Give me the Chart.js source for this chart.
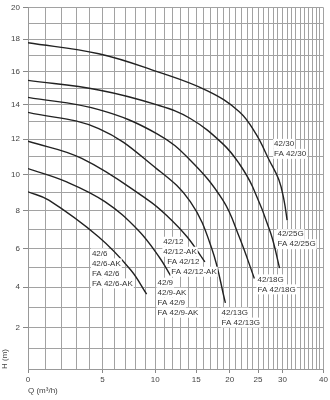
<!DOCTYPE html>
<html>
<head>
<meta charset="utf-8">
<script src="https://cdn.jsdelivr.net/npm/chart.js@4.4.0/dist/chart.umd.min.js"></script>
<style>
body { margin:0; background:#fff; }
canvas { display:block; }
</style>
</head>
<body>
<canvas id="pump-chart" width="330" height="400"></canvas>
<script>

// Q (m3/h) and H (m) along each pump curve
var q30 = [0, 4.7, 10.2, 16.5, 21.6, 24.6, 27.2, 29.2, 30.3, 31.0];
var h30 = [17.78, 17.1, 16.0, 14.85, 13.6, 12.3, 10.8, 9.7, 8.6, 7.5];

var q25 = [0, 4.7, 10.2, 14.2, 18.9, 21.6, 24.0, 27.5, 29.35];
var h25 = [15.47, 14.89, 14.0, 13.2, 11.73, 10.6, 9.3, 6.8, 4.98];

var q18 = [0, 4.7, 10.2, 14.2, 18.9, 21.6, 24.3];
var h18 = [14.45, 13.72, 12.31, 10.8, 8.58, 6.6, 4.45];

var q13 = [0, 4.7, 10.2, 14.2, 17.2, 19.3];
var h13 = [13.56, 12.61, 10.3, 8.5, 6.0, 3.21];

var q12 = [0, 3.4, 9.2, 11.4, 13.8, 16.2];
var h12 = [11.88, 10.9, 8.6, 7.7, 6.6, 5.3];

var q9 = [0, 2.3, 5.2, 8.2, 10.5, 11.74];
var h9 = [10.33, 9.6, 8.5, 6.97, 5.5, 4.59];

var q6 = [0, 1.2, 4.7, 7.5, 9.08];
var h6 = [9.04, 8.58, 6.6, 4.88, 3.65];

// labelled ticks
var qTicks = [0, 5, 10, 15, 20, 25, 30, 40];
var hTicks = [2, 4, 6, 8, 10, 12, 14, 16, 18, 20];

// curve names, anchored at (Q, H) of the first line
var curveLabels = [
    { q: 28.2, h: 11.73, lines: ['42/30', 'FA 42/30'] },
    { q: 28.9, h: 6.75, lines: ['42/25G', 'FA 42/25G'] },
    { q: 24.9, h: 4.40, lines: ['42/18G', 'FA 42/18G'] },
    { q: 18.7, h: 2.73, lines: ['42/13G', 'FA 42/13G'] },
    { q: 10.9, h: 6.35, lines: ['42/12', '42/12-AK', 'FA 42/12', 'FA 42/12-AK'], indent: [0, 0, 4, 8] },
    { q: 10.24, h: 4.23, lines: ['42/9', '42/9-AK', 'FA 42/9', 'FA 42/9-AK'] },
    { q: 4.16, h: 5.74, lines: ['42/6', '42/6-AK', 'FA 42/6', 'FA 42/6-AK'] }
];

var FONT = '"Liberation Sans", Arial, sans-serif';

// both axes of this sheet are ln(1 + v / shift) scales
class ShiftedLogScale extends Chart.LinearScale {
    tr(v) {
        return Math.log(1 + v / (this.options.shift || 10));
    }
    getPixelForValue(value) {
        if (value === null || value === undefined) return NaN;
        var t0 = this.tr(this.min), t1 = this.tr(this.max);
        return this.getPixelForDecimal((this.tr(value) - t0) / (t1 - t0));
    }
    getValueForPixel(pixel) {
        var t0 = this.tr(this.min), t1 = this.tr(this.max);
        var t = t0 + this.getDecimalForPixel(pixel) * (t1 - t0);
        return (this.options.shift || 10) * (Math.exp(t) - 1);
    }
}
ShiftedLogScale.id = 'shiftedLog';
ShiftedLogScale.defaults = Chart.LinearScale.defaults;
Chart.register(ShiftedLogScale);

function points(qs, hs) {
    return qs.map(function (q, i) {
        return { x: q, y: hs[i] };
    });
}

function curve(qs, hs) {
    return {
        data: points(qs, hs),
        borderColor: '#222',
        borderWidth: 1.4,
        pointRadius: 0,
        fill: false,
        tension: 0.4
    };
}

var labelPlugin = {
    id: 'curveLabels',
    afterDatasetsDraw: function (chart) {
        var ctx = chart.ctx;
        var xs = chart.scales.x, ys = chart.scales.y;
        ctx.save();
        ctx.font = '8px ' + FONT;
        ctx.textBaseline = 'middle';
        ctx.textAlign = 'left';
        curveLabels.forEach(function (lab) {
            var x = xs.getPixelForValue(lab.q);
            var y = ys.getPixelForValue(lab.h);
            lab.lines.forEach(function (txt, i) {
                var dx = lab.indent ? lab.indent[i] : 0;
                var w = ctx.measureText(txt).width;
                ctx.fillStyle = '#fff';
                ctx.fillRect(x + dx - 1, y + i * 10 - 5, w + 2, 10);
                ctx.fillStyle = '#333';
                ctx.fillText(txt, x + dx, y + i * 10);
            });
        });
        ctx.restore();
    }
};

var ctx = document.getElementById('pump-chart');
var pumpChart = new Chart(ctx, {
    type: 'line',
    data: {
        datasets: [
            curve(q30, h30),
            curve(q25, h25),
            curve(q18, h18),
            curve(q13, h13),
            curve(q12, h12),
            curve(q9, h9),
            curve(q6, h6)
        ]
    },
    options: {
        responsive: false,
        animation: false,
        layout: { padding: { left: 0, top: 7, right: 5, bottom: 0 } },
        plugins: { legend: { display: false }, tooltip: { enabled: false } },
        scales: {
            x: {
                type: 'shiftedLog',
                shift: 10,
                min: 0,
                max: 40,
                afterFit: function (s) { s.height = 31; },
                grid: {
                    color: '#a2a2a2',
                    lineWidth: 1,
                    tickLength: 4,
                    tickColor: function (c) {
                        return c.tick && qTicks.indexOf(c.tick.value) >= 0 ? '#888' : 'rgba(0,0,0,0)';
                    }
                },
                border: { color: '#999' },
                ticks: {
                    stepSize: 1,
                    maxTicksLimit: 100,
                    autoSkip: false,
                    maxRotation: 0,
                    padding: 2,
                    color: '#444',
                    font: { family: FONT, size: 8 },
                    callback: function (v) {
                        return qTicks.indexOf(v) >= 0 ? String(v) : '';
                    }
                },
                title: {
                    display: true,
                    text: 'Q (m³/h)',
                    align: 'start',
                    color: '#444',
                    font: { family: FONT, size: 8 },
                    padding: { top: 0, bottom: 4 }
                }
            },
            y: {
                type: 'shiftedLog',
                shift: 55,
                min: 0,
                max: 20,
                afterFit: function (s) { s.width = 28; },
                grid: {
                    color: '#a2a2a2',
                    lineWidth: 1,
                    tickLength: 5,
                    tickColor: function (c) {
                        return c.tick && hTicks.indexOf(c.tick.value) >= 0 ? '#888' : 'rgba(0,0,0,0)';
                    }
                },
                border: { color: '#999' },
                ticks: {
                    stepSize: 1,
                    maxTicksLimit: 100,
                    autoSkip: false,
                    padding: 3,
                    color: '#444',
                    font: { family: FONT, size: 8 },
                    callback: function (v) {
                        return hTicks.indexOf(v) >= 0 ? String(v) : '';
                    }
                },
                title: {
                    display: true,
                    text: 'H (m)',
                    align: 'start',
                    color: '#444',
                    font: { family: FONT, size: 8 },
                    padding: 0
                }
            }
        }
    },
    plugins: [labelPlugin]
});
</script>
</body>
</html>
